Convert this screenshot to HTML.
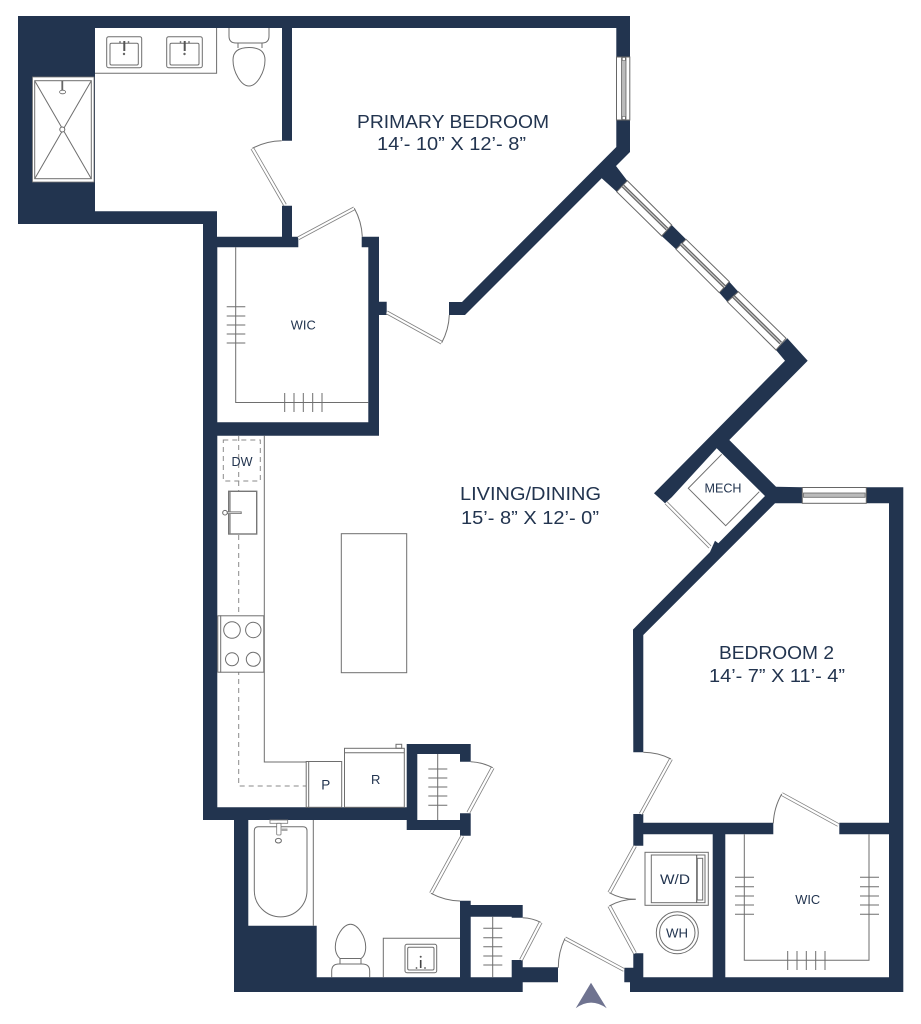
<!DOCTYPE html>
<html>
<head>
<meta charset="utf-8">
<title>Floor plan</title>
<style>
html,body{margin:0;padding:0;background:#fff;width:921px;height:1024px;overflow:hidden}
svg{display:block}
.t{font-family:"Liberation Sans",sans-serif;fill:#22344f;text-anchor:middle}
.l{fill:none;stroke:#6e6e6e;stroke-width:1}
.d{fill:none;stroke:#8a8a8a;stroke-width:1;stroke-dasharray:5 4}
.doorO{fill:none;stroke:#808080;stroke-width:3.8}
.doorI{fill:none;stroke:#fff;stroke-width:2.2}
.arc{fill:none;stroke:#707070;stroke-width:1}
.win{fill:#fff;stroke:#666;stroke-width:1}
.band{fill:#bbb;stroke:#666;stroke-width:.8}
.wall{fill:#22344f}
</style>
</head>
<body>
<svg width="921" height="1024" viewBox="0 0 921 1024" xmlns="http://www.w3.org/2000/svg">
<rect width="921" height="1024" fill="#fff"/>

<!-- walls -->
<polygon class="wall" points="18,16 630,16 630,57 616.3,57 616.3,28 292,28 292,140.7 282,140.7 282,28 95,28 95,211.3 217,211.3 217,236.7 282,236.7 282,205.7 292,205.7 292,236.7 298.3,236.7 298.3,247.3 217.3,247.3 217.3,422.3 368.3,422.3 368.3,247.3 361.7,247.3 361.7,236.7 379,236.7 379,301.7 386.7,301.7 386.7,315 379,315 379,435.7 217.3,435.7 217.3,807.3 406.7,807.3 406.7,744 470.7,744 470.7,761.7 460,761.7 460,754 417.3,754 417.3,820 460,820 460,813.3 470.7,813.3 470.7,835.7 460,835.7 460,830 406.7,830 406.7,820 248.3,820 248.3,925.7 316.7,925.7 316.7,977.3 460,977.3 460,900.7 470.7,900.7 470.7,905 522.7,905 522.7,917.7 511.7,917.7 511.7,916.7 470.7,916.7 470.7,977.3 511.7,977.3 511.7,960 522.7,960 522.7,967.3 558,967.3 558,982.3 522.7,982.3 522.7,992 234,992 234,820 203,820 203,224 18,224"/>
<polygon class="wall" points="616.3,120 630,120 630,152 616,166 627.3,180.7 616.7,191.7 601.7,178.3 465,315 449,315 449,302 462,302 616.3,147"/>
<polygon class="wall" points="661.7,236 671.7,225 686,239.3 676,249.3"/>
<polygon class="wall" points="719.3,292.7 729.3,281.7 738.3,291.7 727.3,301.7"/>
<polygon class="wall" points="776,350 787.3,338.3 807.7,360.7 729.3,440 776,486.7 802.3,487.3 802.3,503.3 775,503.3 643.3,635 643.3,752.3 633.3,752.3 633,629.5 710,552 715,540.7 718.3,543.3 765,496 716.7,448.3 671.7,497.3 665,503.3 654,493.3 785,360.7"/>
<polygon class="wall" points="866.3,487.3 903.3,487.3 903.3,992 630,992 630,982.3 624.3,982.3 624.3,967.7 633.3,967.7 633.3,953.3 643.3,953.3 643.3,977.3 712.7,977.3 712.7,834.3 643.3,834.3 643.3,845.7 633.3,845.7 633.3,814 643.3,814 643.3,822.7 773.3,822.7 773.3,834.3 725.3,834.3 725.3,977.3 889,977.3 889,834.3 839.3,834.3 839.3,822.7 889,822.7 889,503.3 866.3,503.3"/>

<!-- shower -->
<rect x="32.5" y="77" width="61.5" height="105" fill="#fff" stroke="#777" stroke-width=".8"/>
<rect x="34.7" y="80.7" width="56.6" height="98" class="l"/>
<path class="l" d="M34.7 80.7L91.3 178.7M91.3 80.7L34.7 178.7"/>
<circle cx="62.3" cy="129.5" r="2.5" fill="#fff" stroke="#666"/>
<line x1="62.3" y1="81" x2="62.3" y2="90" stroke="#666" stroke-width="1.8"/>
<ellipse cx="62.6" cy="92" rx="3" ry="1.8" fill="#fff" stroke="#666" stroke-width=".8"/>

<!-- primary bath counter & sinks -->
<path class="l" d="M95 73.3H216.6V28"/>
<rect class="l" x="106.7" y="36.7" width="35" height="31" rx="2"/>
<rect class="l" x="110" y="43.3" width="28.3" height="21.7" rx="1.5"/>
<line x1="124.3" y1="41" x2="124.3" y2="51" stroke="#555" stroke-width="2"/><circle cx="124" cy="54" r="1.2" fill="#666"/>
<circle cx="120" cy="42" r=".9" fill="#666"/><circle cx="128.5" cy="42" r=".9" fill="#666"/>
<rect class="l" x="166.7" y="36.7" width="35.6" height="31" rx="2"/>
<rect class="l" x="170" y="43.3" width="29" height="21.7" rx="1.5"/>
<line x1="184.7" y1="41" x2="184.7" y2="51" stroke="#555" stroke-width="2"/><circle cx="184.5" cy="54" r="1.2" fill="#666"/>
<circle cx="180.5" cy="42" r=".9" fill="#666"/><circle cx="189" cy="42" r=".9" fill="#666"/>

<!-- toilet 1 -->
<path class="l" d="M229 28V36Q229 43 236 43H262Q269 43 269 36V28"/>
<path class="l" d="M238 43V48M262 43V48"/>
<path class="l" d="M249 47.5C238 47.5 233 52 233 60C233 72 241 86 249 86C257 86 265 72 265 60C265 52 260 47.5 249 47.5Z"/>

<!-- WIC 1 -->
<path class="l" d="M235.7 247.3V402.5H368.3"/>
<path class="l" d="M226.7 306.7H245.3M226.7 316H245.3M226.7 325H245.3M226.7 334H245.3M226.7 343H245.3"/>
<path class="l" d="M284.7 393V412M294 393V412M303.3 393V412M312.7 393V412M322 393V412"/>

<!-- windows -->
<rect class="win" x="616.5" y="57" width="13.3" height="63"/>
<rect class="band" x="621.5" y="58" width="4.5" height="61"/>
<rect x="622.3" y="57.5" width="3" height="3" fill="#fff" stroke="#666" stroke-width=".6"/>
<rect x="622.3" y="116.5" width="3" height="3" fill="#fff" stroke="#666" stroke-width=".6"/>

<polygon class="win" points="627.3,180.7 671.7,225 661.7,236 616.7,191.7"/>
<line x1="623" y1="186" x2="667" y2="229" stroke="#666" stroke-width="3.6"/><line x1="623" y1="186" x2="667" y2="229" stroke="#ccc" stroke-width="1.2"/>
<polygon class="win" points="686,239.3 729.3,281.7 719.3,292.7 676,249.3"/>
<line x1="680.7" y1="243.6" x2="725" y2="287" stroke="#666" stroke-width="3.6"/><line x1="680.7" y1="243.6" x2="725" y2="287" stroke="#ccc" stroke-width="1.2"/>
<polygon class="win" points="738.3,291.7 786,338.3 776,350 727.3,301.7"/>
<line x1="733.5" y1="296.5" x2="780.7" y2="343" stroke="#666" stroke-width="3.6"/><line x1="733.5" y1="296.5" x2="780.7" y2="343" stroke="#ccc" stroke-width="1.2"/>

<rect class="win" x="802.3" y="487.5" width="64" height="15.8"/>
<rect class="band" x="803.5" y="493" width="61.6" height="4.3"/>

<!-- mech -->
<path class="l" d="M721.7 454.3L688.3 488.3L725.7 525.7L759.3 491.7"/>

<!-- kitchen -->
<path class="l" d="M264.3 435.7V762H306"/>
<path class="d" d="M238.7 436V786H306"/>
<rect class="d" x="223.3" y="440" width="37" height="41"/>
<rect x="228.7" y="491.3" width="28" height="42.7" fill="#fff" stroke="#777" stroke-width="1.4"/>
<line x1="230" y1="492" x2="230" y2="533.5" stroke="#999" stroke-width="1.5"/>
<line x1="226" y1="512.7" x2="241.7" y2="512.7" stroke="#777" stroke-width="2.6"/>
<line x1="227" y1="512.7" x2="240.7" y2="512.7" stroke="#ddd" stroke-width="1"/>
<circle cx="225" cy="512.7" r="2.3" fill="#fff" stroke="#666"/>
<rect x="217.8" y="615.8" width="46" height="56.4" fill="#fff" stroke="#6e6e6e"/>
<line x1="220.7" y1="615.3" x2="220.7" y2="672.7" stroke="#6e6e6e"/>
<circle class="l" cx="232" cy="630" r="8.3"/><circle class="l" cx="253.3" cy="630" r="7.7"/>
<circle class="l" cx="232" cy="659.3" r="6.5"/><circle class="l" cx="253.3" cy="659.3" r="7"/>
<rect class="l" x="341.3" y="533.7" width="65.4" height="139"/>
<!-- P / R -->
<rect x="306.2" y="761.5" width="35.5" height="45.8" fill="#fff" stroke="#6e6e6e"/>
<line x1="308.7" y1="761.5" x2="308.7" y2="807" stroke="#6e6e6e"/>
<rect x="344.5" y="748.3" width="59.8" height="59" fill="#fff" stroke="#6e6e6e"/>
<line x1="344.5" y1="752.7" x2="404.3" y2="752.7" stroke="#6e6e6e"/>
<rect class="l" x="396" y="744.3" width="5.7" height="4"/>

<!-- closets -->
<path class="l" d="M437.7 754V820M428.3 769H447.3M428.3 778H447.3M428.3 787H447.3M428.3 796H447.3M428.3 805.3H447.3"/>
<path class="l" d="M492.7 916.7V977.3M483.3 928.3H502.3M483.3 937.7H502.3M483.3 946.7H502.3M483.3 956H502.3M483.3 965H502.3"/>

<!-- hall bath -->
<path class="l" d="M313.3 820V925.7"/>
<path class="l" d="M258.5 826.7H303Q307 826.7 307 830.7V890.5A26.3 26.3 0 0 1 254.3 890.5V830.7Q254.3 826.7 258.5 826.7Z"/>
<rect x="270" y="820" width="17.7" height="3.3" fill="#fff" stroke="#777" stroke-width=".8"/>
<rect x="276.7" y="823.3" width="4.3" height="11.7" fill="#fff" stroke="#777" stroke-width=".8" rx="1"/>
<rect x="281" y="828.5" width="6.5" height="2.5" fill="#aaa"/>
<ellipse class="l" cx="278.4" cy="840.7" rx="3" ry="2.3"/>
<path class="l" d="M350.5 924.3C343 924.3 335.3 937 335.3 947C335.3 953 338 957 340 958.5H361C363.5 957 365.7 953 365.7 947C365.7 937 358 924.3 350.5 924.3Z"/>
<path class="l" d="M340 958.5V964M361 958.5V964"/>
<path class="l" d="M331.7 977.3V971Q331.7 964 339 964H362Q369.7 964 369.7 971V977.3"/>
<path class="l" d="M383.3 977.3V938.3H460"/>
<rect class="l" x="405" y="944.3" width="31.7" height="28.4" rx="2"/>
<rect class="l" x="407.7" y="947.3" width="26.3" height="22.7" rx="1.5"/>
<line x1="420.7" y1="960" x2="420.7" y2="968" stroke="#444" stroke-width="1.6"/><circle cx="420.7" cy="956.7" r="1" fill="#555"/>
<circle cx="416.5" cy="968" r=".9" fill="#555"/><circle cx="425" cy="968" r=".9" fill="#555"/>

<!-- W/D, WH -->
<rect class="l" x="645" y="852.3" width="63.3" height="53"/>
<rect class="l" x="651.3" y="855" width="53.7" height="47.7"/>
<line x1="696.7" y1="855" x2="696.7" y2="902.7" stroke="#555"/>
<rect class="l" x="697.3" y="858.3" width="5.4" height="41.7"/>
<circle class="l" cx="677.3" cy="932.7" r="21"/>
<circle class="l" cx="677.3" cy="932.7" r="17.7"/>

<!-- WIC 2 -->
<path class="l" d="M744.3 834.3V960.3H869V834.3"/>
<path class="l" d="M735 877.3H754M735 886.7H754M735 896H754M735 905H754M735 914.3H754"/>
<path class="l" d="M860 877.3H879M860 886.7H879M860 896H879M860 905H879M860 914.3H879"/>
<path class="l" d="M787.7 951V970M797 951V970M806.3 951V970M815.7 951V970M825 951V970"/>

<!-- door leaves -->
<path class="doorO" d="M285 205L252.3 148.3M298.3 238.3L354.3 208.3M386.7 312.3L441.7 342.7M468.3 812.7L492.7 767.7M462.3 836L431 893.3M521 960L540.7 922.3M624 970L565 938.3M640.7 814L671 759M635 846L609.3 892.7M635 953.3L609.3 906M838.3 825L781.7 794M666 502.7L710 547"/>
<path class="doorI" d="M285 205L252.3 148.3M298.3 238.3L354.3 208.3M386.7 312.3L441.7 342.7M468.3 812.7L492.7 767.7M462.3 836L431 893.3M521 960L540.7 922.3M624 970L565 938.3M640.7 814L671 759M635 846L609.3 892.7M635 953.3L609.3 906M838.3 825L781.7 794M666 502.7L710 547"/>
<!-- door arcs -->
<path class="arc" d="M252.3 148.3A65 65 0 0 1 281.7 140.7"/>
<path class="arc" d="M354.3 208.3A64 64 0 0 1 362.3 236.7"/>
<path class="arc" d="M441.7 342.7A63 63 0 0 0 449.3 315"/>
<path class="arc" d="M492.7 767.7A51 51 0 0 0 470.7 761.7"/>
<path class="arc" d="M431 893.3A65 65 0 0 0 460 901"/>
<path class="arc" d="M540.7 922.3A43 43 0 0 0 522.7 917.7"/>
<path class="arc" d="M565 938.3A66 66 0 0 0 558.3 967.7"/>
<path class="arc" d="M671 759A62 62 0 0 0 643.3 752.3"/>
<path class="arc" d="M609.3 892.7A53 53 0 0 0 635.7 899.3"/>
<path class="arc" d="M609.3 906A54 54 0 0 1 635.7 899.3"/>
<path class="arc" d="M781.7 794A65 65 0 0 0 773.3 823.3"/>

<!-- north arrow -->
<path d="M591 982.7L606.7 1008.3Q591 997 575.7 1008.3Z" fill="#6f7390"/>

<!-- labels -->
<text class="t" x="453" y="128" font-size="18" textLength="192" lengthAdjust="spacingAndGlyphs">PRIMARY BEDROOM</text>
<text class="t" x="451.5" y="150" font-size="18" textLength="149" lengthAdjust="spacingAndGlyphs">14’- 10” X 12’- 8”</text>
<text class="t" x="530.5" y="500" font-size="18" textLength="141" lengthAdjust="spacingAndGlyphs">LIVING/DINING</text>
<text class="t" x="530" y="524" font-size="18" textLength="138" lengthAdjust="spacingAndGlyphs">15’- 8” X 12’- 0”</text>
<text class="t" x="776.5" y="659" font-size="18" textLength="115" lengthAdjust="spacingAndGlyphs">BEDROOM 2</text>
<text class="t" x="777" y="682" font-size="18" textLength="136" lengthAdjust="spacingAndGlyphs">14’- 7” X 11’- 4”</text>
<text class="t" x="303.3" y="329.5" font-size="13" textLength="25" lengthAdjust="spacingAndGlyphs">WIC</text>
<text class="t" x="807.7" y="904" font-size="13" textLength="25" lengthAdjust="spacingAndGlyphs">WIC</text>
<text class="t" x="723" y="492.5" font-size="13" textLength="37" lengthAdjust="spacingAndGlyphs">MECH</text>
<text class="t" x="242" y="466" font-size="12.5" textLength="21" lengthAdjust="spacingAndGlyphs">DW</text>
<text class="t" x="325.7" y="789.5" font-size="13.5">P</text>
<text class="t" x="375.7" y="784" font-size="13">R</text>
<text class="t" x="675" y="884" font-size="13.5" textLength="30" lengthAdjust="spacingAndGlyphs">W/D</text>
<text class="t" x="677" y="937.5" font-size="13" textLength="22" lengthAdjust="spacingAndGlyphs">WH</text>
</svg>
</body>
</html>
